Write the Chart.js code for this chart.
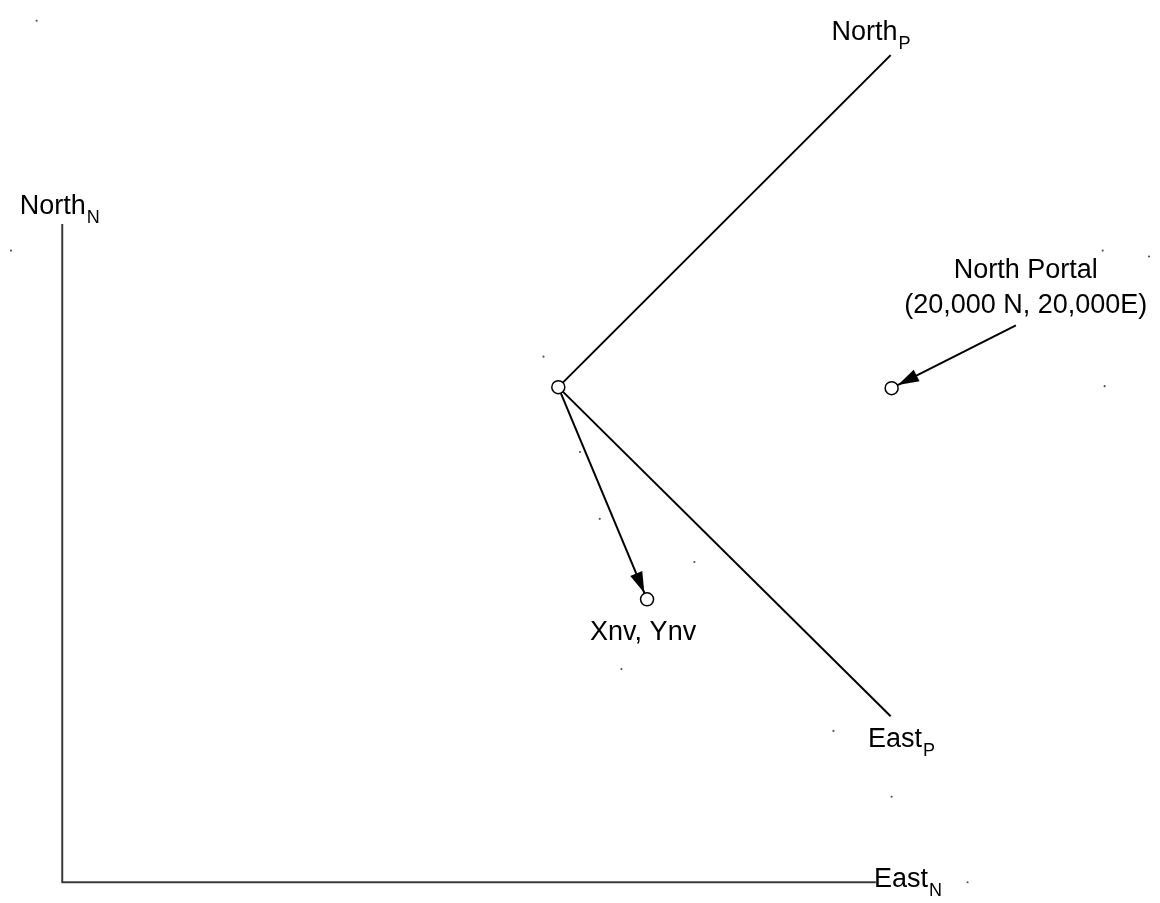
<!DOCTYPE html>
<html>
<head>
<meta charset="utf-8">
<title>North Portal coordinate systems</title>
<script src="https://cdn.jsdelivr.net/npm/chart.js@4.4.1/dist/chart.umd.min.js"></script>
<style>
    body { margin: 0; background: #fff; }
    #wrap { width: 1160px; height: 903px; position: relative; }
</style>
</head>
<body>
<div id="wrap"><canvas id="diagramChart"></canvas></div>
<script>
    // Data space: easting (x) / northing (y), origin at the corner of the North_N / East_N axes
    const nAxisE = [0, 0, 825];
    const nAxisN = [670, 0, 0];

    const pOrigin = { x: 503, y: 504 };     // plant grid origin
    const pNorthEnd = { x: 840, y: 842 };   // North_P axis end
    const pEastEnd = { x: 840, y: 169 };    // East_P axis end
    const xnvPoint = { x: 593, y: 288 };    // Xnv, Ynv
    const portalPoint = { x: 841, y: 503 }; // North Portal
    const portalTail = { x: 967, y: 567 };  // start of the portal arrow

    // stray specks from the scanned original
    const speckE = [-26, -52, 1055, 1102, 1057, 545, 641, 488, 525, 567, 841, 782, 918];
    const speckN = [877, 643, 643, 637, 505, 370, 326, 535, 438, 217, 87, 154, 0];

    // labels: text, subscript, anchor in data units, alignment
    const labelText = ['North', 'North', 'East', 'East', 'North Portal', '(20,000 N, 20,000E)', 'Xnv, Ynv'];
    const labelSub = ['N', 'P', 'P', 'N', '', '', ''];
    const labelE = [-43, 780, 817, 823, 977, 977, 589];
    const labelN = [680, 857, 138, -5, 615, 580, 247];
    const labelAlign = ['left', 'left', 'left', 'left', 'center', 'center', 'center'];

    const axisPoints = nAxisE.map((e, i) => ({ x: e, y: nAxisN[i] }));
    const speckPoints = speckE.map((e, i) => ({ x: e, y: speckN[i] }));

    // draws arrowheads and text labels on top of the lines
    const overlayPlugin = {
        id: 'overlay',
        afterDatasetsDraw(chart) {
            const ctx = chart.ctx;
            const xs = chart.scales.x;
            const ys = chart.scales.y;
            const px = p => ({ x: xs.getPixelForValue(p.x), y: ys.getPixelForValue(p.y) });

            const arrows = [[pOrigin, xnvPoint], [portalTail, portalPoint]];
            arrows.forEach(([from, to]) => {
                const a = px(from), b = px(to);
                const ang = Math.atan2(b.y - a.y, b.x - a.x);
                const r = 7;
                const tip = { x: b.x - Math.cos(ang) * r, y: b.y - Math.sin(ang) * r };
                const len = 21, half = 6.5;
                ctx.save();
                ctx.fillStyle = '#000';
                ctx.beginPath();
                ctx.moveTo(tip.x, tip.y);
                ctx.lineTo(tip.x - Math.cos(ang) * len - Math.sin(ang) * half,
                           tip.y - Math.sin(ang) * len + Math.cos(ang) * half);
                ctx.lineTo(tip.x - Math.cos(ang) * len + Math.sin(ang) * half,
                           tip.y - Math.sin(ang) * len - Math.cos(ang) * half);
                ctx.closePath();
                ctx.fill();
                ctx.restore();
            });

            ctx.save();
            ctx.fillStyle = '#000';
            ctx.textBaseline = 'alphabetic';
            labelText.forEach((t, i) => {
                const p = px({ x: labelE[i], y: labelN[i] });
                ctx.font = '27px "Liberation Sans", Arial, sans-serif';
                ctx.textAlign = labelAlign[i];
                ctx.fillText(t, p.x, p.y);
                if (labelSub[i]) {
                    const w = ctx.measureText(t).width;
                    ctx.font = '18px "Liberation Sans", Arial, sans-serif';
                    ctx.textAlign = 'left';
                    ctx.fillText(labelSub[i], p.x + w + 1, p.y + 9);
                }
            });
            ctx.restore();
        }
    };

    const diagramCtx = document.getElementById('diagramChart').getContext('2d');
    const diagramChart = new Chart(diagramCtx, {
        type: 'scatter',
        data: {
            datasets: [
                {
                    label: 'Circles',
                    data: [pOrigin, xnvPoint, portalPoint],
                    showLine: false,
                    pointRadius: 6.5,
                    pointBackgroundColor: '#fff',
                    pointBorderColor: '#000',
                    pointBorderWidth: 1.5,
                    order: 0
                },
                {
                    label: 'Specks',
                    data: speckPoints,
                    showLine: false,
                    pointRadius: 1.1,
                    pointBackgroundColor: '#555',
                    pointBorderWidth: 0,
                    order: 2
                },
                {
                    label: 'North_N / East_N',
                    data: axisPoints,
                    showLine: true,
                    borderColor: '#3a3a3a',
                    borderWidth: 2,
                    pointRadius: 0,
                    order: 1
                },
                {
                    label: 'North_P',
                    data: [pOrigin, pNorthEnd],
                    showLine: true,
                    borderColor: '#000',
                    borderWidth: 2,
                    pointRadius: 0,
                    order: 1
                },
                {
                    label: 'East_P',
                    data: [pOrigin, pEastEnd],
                    showLine: true,
                    borderColor: '#000',
                    borderWidth: 2,
                    pointRadius: 0,
                    order: 1
                },
                {
                    label: 'To Xnv',
                    data: [pOrigin, xnvPoint],
                    showLine: true,
                    borderColor: '#000',
                    borderWidth: 2,
                    pointRadius: 0,
                    order: 1
                },
                {
                    label: 'To portal',
                    data: [portalTail, portalPoint],
                    showLine: true,
                    borderColor: '#000',
                    borderWidth: 2,
                    pointRadius: 0,
                    order: 1
                }
            ]
        },
        options: {
            responsive: true,
            maintainAspectRatio: false,
            animation: false,
            events: [],
            layout: { padding: 0 },
            datasets: { scatter: { clip: false } },
            scales: {
                x: { type: 'linear', display: false, min: -55, max: 1105 },
                y: { type: 'linear', display: false, min: -13, max: 890 }
            },
            plugins: {
                legend: { display: false },
                tooltip: { enabled: false }
            }
        },
        plugins: [overlayPlugin]
    });
</script>
</body>
</html>
